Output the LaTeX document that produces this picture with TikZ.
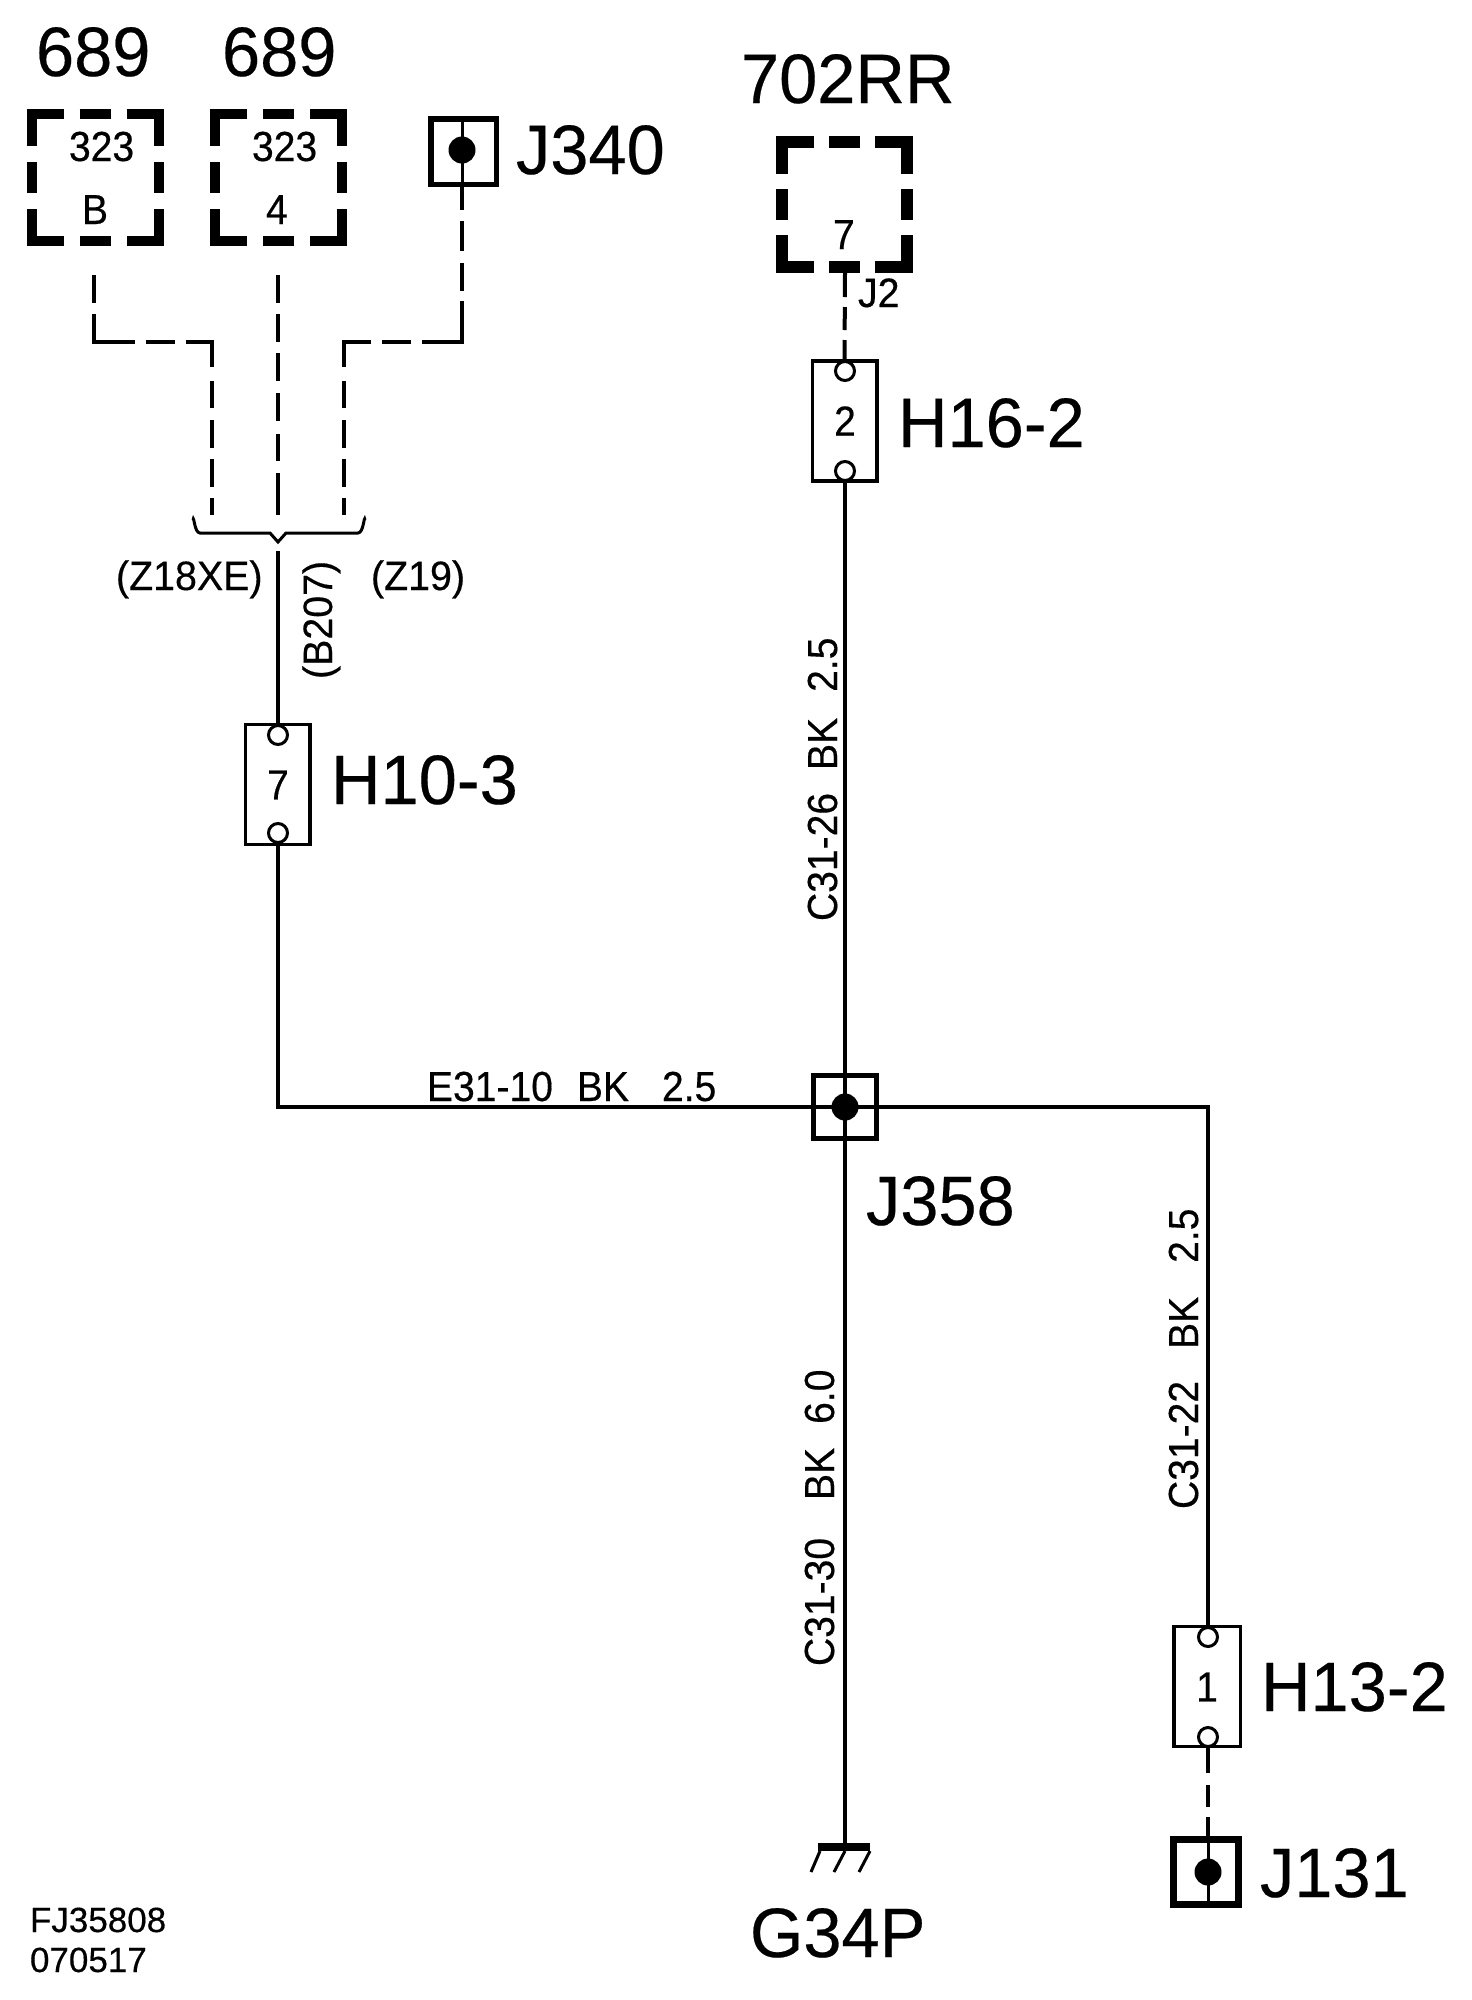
\documentclass[tikz,border=0pt]{standalone}
\usepackage{fontspec}
\setmainfont{Liberation Sans}
\newfontfamily\bigfam[FakeStretch=0.98,FakeBold=0.3]{Liberation Sans}
\newfontfamily\smallfam[FakeStretch=0.93,FakeBold=0.4]{Liberation Sans}
\newfontfamily\notefam[FakeStretch=0.96,FakeBold=0.4]{Liberation Sans}
\newfontfamily\reffam[FakeBold=0.4]{Liberation Sans}
\newcommand{\fs}[1]{\fontsize{#1}{#1}\selectfont}
\newcommand{\wgap}[1]{\hspace{#1pt}}
\tikzset{
  x=1pt,y=-1pt,
  lbl/.style={inner sep=0pt,outer sep=0pt,anchor=base west,text=black},
  big/.style={lbl,font=\bigfam\fs{70}},
  mid/.style={lbl,font=\smallfam\fs{42}},
  small/.style={lbl,font=\smallfam\fs{42}},
  note/.style={lbl,font=\notefam\fs{41}},
  refnote/.style={lbl,font=\reffam\fs{35}},
  num/.style={inner sep=0pt,outer sep=0pt,font=\smallfam\fs{42}},
  wire/.style={draw=black,line width=4pt},
  dashwire/.style={draw=black,line width=4pt},
  thin wire/.style={draw=black,line width=3pt},
  modbox/.style={inner sep=0pt,outer sep=0pt,minimum size=#1,rectangle},
  term/.style={draw=black,line width=3.5pt,fill=white,inner sep=0pt,outer sep=0pt,minimum width=64.5pt,minimum height=120pt,rectangle},
  pinhole/.style={circle,draw=black,line width=3pt,fill=white,inner sep=0pt,outer sep=0pt,minimum size=19pt},
  junc/.style={rectangle,draw=black,inner sep=0pt,outer sep=0pt},
  dot/.style={circle,fill=black,inner sep=0pt,outer sep=0pt,minimum size=27pt},
}
\newcommand{\dashedmod}[4]{% name, line width, gap, phase
  \draw[black,line width=#2,line join=miter,dash pattern=on 64pt off #3 on 31pt off #3,dash phase=#4]
    (#1.north) -- (#1.north east) -- (#1.south east) -- (#1.south west) -- (#1.north west) -- cycle;}
\begin{document}
\begin{tikzpicture}
\useasboundingbox (0,0) rectangle (1472,2000);
% module boxes
\node[modbox=127pt] (m1) at (95,177.5) {};
\node[modbox=127pt] (m2) at (278.5,177.5) {};
\node[modbox=125pt] (m3) at (844.5,204.5) {};
\dashedmod{m1}{10pt}{16pt}{95.5pt}
\dashedmod{m2}{10pt}{16pt}{95.5pt}
\dashedmod{m3}{12pt}{15pt}{94.5pt}
\node[big] (t689a) at (36,76) {689};
\node[big] (t689b) at (222,76) {689};
\node[big] (t702) at (741,103) {702RR};
\node[mid] (t323a) at (69,161) {323};
\node[mid] (t323b) at (252,161) {323};
\node[mid] (tB) at (82,224) {B};
\node[mid] (t4) at (266,224) {4};
\node[mid] (t7top) at (833,249) {7};
\node[note] (tJ2) at (858,307) {J2};
% terminals
\node[term] (h16) at (844.5,421) {};
\node[term] (h10) at (277.5,784.5) {};
\node[term,minimum width=66.5pt] (h13) at (1207,1686.5) {};
\node[num] (n2) at (845,421) {2};
\node[num] (n7) at (278,785) {7};
\node[num] (n1) at (1207,1687) {1};
\node[pinhole] (h16a) at (845,371) {};
\node[pinhole] (h16b) at (845,471) {};
\node[pinhole] (h10a) at (278,735) {};
\node[pinhole] (h10b) at (278,833) {};
\node[pinhole] (h13a) at (1208,1637) {};
\node[pinhole] (h13b) at (1208,1737) {};
\node[big] (lh16) at (898,447) {H16-2};
\node[big] (lh10) at (331,804) {H10-3};
\node[big] (lh13) at (1261,1711) {H13-2};
% junctions
\node[junc,line width=5.5pt,minimum size=65.5pt] (j340) at (463.5,151.5) {};
\node[junc,line width=5pt,minimum size=63pt] (j358) at (844.5,1106.5) {};
\node[junc,line width=7pt,minimum size=65pt] (j131) at (1206,1871.5) {};
\coordinate (j340t) at (462,116);
\coordinate (j340b) at (462,187);
\coordinate (j131t) at (1208,1836);
\coordinate (j131b) at (1208,1907);
\draw[thin wire] (j340t) -- (j340b);
\draw[thin wire] (j131t) -- (j131b);
\node[big] (lj340) at (516,174) {J340};
\node[big] (lj358) at (866,1225) {J358};
\node[big] (lj131) at (1260,1897) {J131};
% dashed wires
\coordinate (a0) at (94,275);
\coordinate (a1) at (94,342);
\coordinate (a2) at (212,342);
\coordinate (a3) at (212,515);
\coordinate (b0) at (278,275);
\coordinate (b3) at (278,515);
\coordinate (c1) at (462,342);
\coordinate (c2) at (344,342);
\coordinate (c3) at (344,515);
\draw[dashwire,dash pattern=on 28pt off 11pt on 69pt off 11pt on 29pt off 11pt on 51pt off 14pt on 27pt off 12pt on 28pt off 11pt on 28pt off 11pt on 17pt off 40pt]
  (a0) -- (a1) -- (a2) -- (a3);
\draw[dashwire,dash pattern=on 28pt off 11pt on 28pt off 11pt on 28pt off 12pt on 28pt off 13pt on 27pt off 12pt on 42pt off 40pt]
  (b0) -- (b3);
\draw[dashwire,dash pattern=on 23pt off 11pt on 30pt off 12pt on 28pt off 10pt on 81pt off 11pt on 29pt off 11pt on 52pt off 14pt on 27pt off 12pt on 28pt off 11pt on 28pt off 11pt on 17pt off 40pt]
  (j340b) -- (c1) -- (c2) -- (c3);
\coordinate (m3b) at (845,273);
\coordinate (h13bot) at (1208,1748);
\draw[dashwire,dash pattern=on 24pt off 10pt on 23pt off 10pt on 19pt off 40pt] (m3b) -- (h16.north);
\draw[dashwire,dash pattern=on 25pt off 12pt on 22pt off 10pt on 20pt off 40pt] (h13bot) -- (j131t);
% brace
\coordinate (br0) at (193,520);
\coordinate (br1) at (200,533);
\coordinate (br2) at (270,533);
\coordinate (br3) at (278,542);
\coordinate (br4) at (286,533);
\coordinate (br5) at (358,533);
\coordinate (br6) at (365,520);
\draw[black,line width=3pt] (br0) to[out=80,in=180] (br1) -- (br2) -- (br3) -- (br4) -- (br5) to[out=0,in=100] (br6);
\node[note] (tz18) at (116,590) {(Z18XE)};
\node[note] (tz19) at (371,590) {(Z19)};
\node[note,rotate=90] (tb207) at (332,679) {(B207)};
% solid wires
\coordinate (wt) at (278,551);
\coordinate (gnd) at (845,1843);
\coordinate (h16bot) at (845,483);
\coordinate (h10bot) at (278,844);
\coordinate (h13top) at (1208,1625);
\coordinate (h10top) at (278,725);
\draw[wire] (wt) -- (h10top);
\draw[wire] (h16bot) -- (gnd);
\draw[wire] (h10bot) |- (h13top |- j358.center) -- (h13top);
\node[dot] (d340) at (462,150) {};
\node[dot] (d358) at (845,1107) {};
\node[dot] (d131) at (1208,1872) {};
\node[small] (te31) at (427,1101) {E31-10\wgap{24}BK\wgap{33}2.5};
\node[small,rotate=90] (tc26) at (837,921) {C31-26\wgap{23}BK\wgap{26}2.5};
\node[small,rotate=90] (tc22) at (1198,1509) {C31-22\wgap{32}BK\wgap{34}2.5};
\node[small,rotate=90] (tc30) at (834,1666) {C31-30\wgap{38}BK\wgap{24}6.0};
% ground
\fill[black] (818,1843) rectangle (870,1851);
\draw[black,line width=3pt] (820,1851) -- (811,1872);
\draw[black,line width=3pt] (845,1851) -- (834,1872);
\draw[black,line width=3pt] (870,1851) -- (859,1872);
\node[big] (lg) at (750,1957) {G34P};
\node[refnote] (tfj) at (30,1932) {FJ35808};
\node[refnote] (tdate) at (30,1972) {070517};
\end{tikzpicture}
\end{document}
